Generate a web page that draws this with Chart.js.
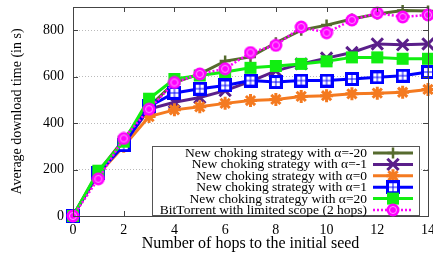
<!DOCTYPE html>
<html>
<head>
<meta charset="utf-8">
<script src="https://cdn.jsdelivr.net/npm/chart.js@4.4.1/dist/chart.umd.min.js"></script>
<style>
  body { margin: 0; background: #fff; }
  canvas { display: block; }
</style>
</head>
<body>
<canvas id="chart" width="433" height="256"></canvas>
<script>
const hops = [0, 1, 2, 3, 4, 5, 6, 7, 8, 9, 10, 11, 12, 13, 14];
const xTicks = [0, 2, 4, 6, 8, 10, 12, 14];
const yTicks = [0, 200, 400, 600, 800];

const seriesLabels = [
  'New choking strategy with \u03b1=-20',
  'New choking strategy with \u03b1=-1',
  'New choking strategy with \u03b1=0',
  'New choking strategy with \u03b1=1',
  'New choking strategy with \u03b1=20',
  'BitTorrent with limited scope (2 hops)'
];

const alphaMinus20 = [0, 190, 330, 470, 575, 612, 667, 685, 746, 800, 822, 848, 870, 885, 883];
const alphaMinus1 = [0, 185, 310, 460, 490, 510, 540, 580, 625, 655, 680, 704, 741, 737, 741];
const alpha0 = [0, 180, 300, 428, 457, 470, 485, 497, 502, 515, 518, 526, 529, 533, 545];
const alpha1 = [0, 185, 305, 472, 530, 548, 562, 583, 577, 583, 583, 590, 597, 604, 620];
const alpha20 = [0, 195, 320, 505, 590, 605, 620, 638, 646, 655, 666, 683, 683, 677, 677];
const bitTorrent = [0, 160, 334, 460, 575, 612, 634, 704, 735, 814, 789, 844, 874, 857, 866];

const FONT = "'Liberation Serif', 'DejaVu Serif', serif";

// blue square marker with the little grid inside
function boxMarker() {
  const c = document.createElement('canvas');
  c.width = 14; c.height = 14;
  const g = c.getContext('2d');
  g.fillStyle = '#0000ff';
  g.fillRect(0, 0, 14, 14);
  g.fillStyle = '#ffffff';
  g.fillRect(3, 3, 3.5, 3.5);
  g.fillRect(7.5, 3, 3.5, 3.5);
  g.fillRect(3, 7.5, 3.5, 3.5);
  g.fillRect(7.5, 7.5, 3.5, 3.5);
  return c;
}

function circleMarker() {
  const c = document.createElement('canvas');
  c.width = 14; c.height = 14;
  const g = c.getContext('2d');
  g.fillStyle = '#ff00ff';
  g.beginPath(); g.arc(7, 7, 6.5, 0, Math.PI * 2); g.fill();
  g.strokeStyle = '#ff9cff';
  g.lineWidth = 1;
  g.beginPath(); g.arc(7, 7, 3.5, 0, Math.PI * 2); g.stroke();
  return c;
}

const toPoints = vals => vals.map((v, i) => ({ x: hops[i], y: v }));

const datasets = [
  { label: seriesLabels[0], data: toPoints(alphaMinus20), borderColor: '#566b2e', backgroundColor: '#566b2e',
    borderWidth: 3, pointStyle: 'cross', pointRadius: 5.5, pointBorderWidth: 2.5, order: 5 },
  { label: seriesLabels[1], data: toPoints(alphaMinus1), borderColor: '#5a1f8a', backgroundColor: '#5a1f8a',
    borderWidth: 3, pointStyle: 'crossRot', pointRadius: 8, pointBorderWidth: 3, order: 4 },
  { label: seriesLabels[2], data: toPoints(alpha0), borderColor: '#f47a20', backgroundColor: '#f47a20',
    borderWidth: 3, pointStyle: 'star', pointRadius: 6.5, pointBorderWidth: 3, order: 3 },
  { label: seriesLabels[3], data: toPoints(alpha1), borderColor: '#0000ff', backgroundColor: '#0000ff',
    borderWidth: 3, pointStyle: boxMarker(), pointRadius: 7, order: 2 },
  { label: seriesLabels[4], data: toPoints(alpha20), borderColor: '#11ee11', backgroundColor: '#11ee11',
    borderWidth: 3, pointStyle: 'rect', pointRadius: 8.5, pointBorderWidth: 0, order: 1 },
  { label: seriesLabels[5], data: toPoints(bitTorrent), borderColor: '#ff00ff', backgroundColor: '#ff00ff',
    borderWidth: 2.5, borderDash: [2, 2], pointStyle: circleMarker(), pointRadius: 7, order: 0 }
];

// gnuplot style frame with inward ticks on all four sides
const framePlugin = {
  id: 'frame',
  afterDatasetsDraw(chart) {
    const { ctx, chartArea: a, scales } = chart;
    ctx.save();
    ctx.strokeStyle = '#444';
    ctx.lineWidth = 1;
    ctx.beginPath();
    xTicks.forEach(v => {
      const px = Math.round(scales.x.getPixelForValue(v)) + 0.5;
      ctx.moveTo(px, a.bottom); ctx.lineTo(px, a.bottom - 5);
      ctx.moveTo(px, a.top); ctx.lineTo(px, a.top + 5);
    });
    yTicks.forEach(v => {
      const py = Math.round(scales.y.getPixelForValue(v)) + 0.5;
      ctx.moveTo(a.left, py); ctx.lineTo(a.left + 5, py);
      ctx.moveTo(a.right, py); ctx.lineTo(a.right - 5, py);
    });
    ctx.stroke();
    ctx.strokeRect(Math.round(a.left) + 0.5, Math.round(a.top) + 0.5,
      Math.round(a.right - a.left), Math.round(a.bottom - a.top));
    ctx.restore();
  }
};

// legend inside the plot, text right aligned, sample on the right
const legendPlugin = {
  id: 'insideLegend',
  afterDraw(chart) {
    const { ctx } = chart;
    const box = { left: 152.5, top: 146.5, right: 419.5, bottom: 215.5 };
    ctx.save();
    ctx.fillStyle = '#fff';
    ctx.fillRect(box.left, box.top, box.right - box.left, box.bottom - box.top);
    ctx.strokeStyle = '#555';
    ctx.lineWidth = 1;
    ctx.strokeRect(box.left, box.top, box.right - box.left, box.bottom - box.top);
    ctx.font = '13.5px ' + FONT;
    ctx.textAlign = 'right';
    ctx.textBaseline = 'middle';
    chart.data.datasets.forEach((ds, i) => {
      const y = 153 + i * 11.4;
      ctx.fillStyle = '#000';
      ctx.fillText(ds.label, 367, y + 0.5);
      ctx.strokeStyle = ds.borderColor;
      ctx.lineWidth = ds.borderWidth;
      ctx.setLineDash(ds.borderDash || []);
      ctx.beginPath();
      ctx.moveTo(373, y); ctx.lineTo(413, y);
      ctx.stroke();
      ctx.setLineDash([]);
      ctx.fillStyle = ds.backgroundColor;
      ctx.lineWidth = ds.pointBorderWidth || 1;
      Chart.helpers.drawPoint(ctx, {
        pointStyle: ds.pointStyle, radius: ds.pointRadius, rotation: 0,
        borderWidth: ds.pointBorderWidth || 0
      }, 393, y);
    });
    ctx.restore();
  }
};

new Chart(document.getElementById('chart'), {
  type: 'line',
  data: { datasets },
  options: {
    responsive: false,
    animation: false,
    events: [],
    clip: false,
    layout: { autoPadding: false, padding: { top: 7, right: 5, left: 0, bottom: 0 } },
    elements: { line: { tension: 0 } },
    plugins: { legend: { display: false }, tooltip: { enabled: false } },
    scales: {
      x: {
        type: 'linear', min: 0, max: 14,
        grid: { display: false },
        border: { display: false },
        ticks: { color: '#000', font: { family: FONT, size: 14 }, padding: -2, maxRotation: 0 },
        title: { display: true, text: 'Number of hops to the initial seed', color: '#000',
          font: { family: FONT, size: 16 }, padding: { top: 0, bottom: 3 } },
        afterBuildTicks: s => { s.ticks = xTicks.map(v => ({ value: v })); },
        afterFit: s => { s.height = 40; s.paddingLeft = 0; s.paddingRight = 0; }
      },
      y: {
        min: 0, max: 900,
        grid: { color: '#bbbbbb', lineWidth: 1, drawTicks: false },
        border: { display: false, dash: [1, 2] },
        ticks: { color: '#000', font: { family: FONT, size: 14 }, padding: 9 },
        title: { display: true, text: 'Average download time (in s)', color: '#000',
          font: { family: FONT, size: 14 }, padding: { top: 9, bottom: 0 } },
        afterBuildTicks: s => { s.ticks = yTicks.map(v => ({ value: v })); },
        afterFit: s => { s.width = 73; s.paddingTop = 0; s.paddingBottom = 0; }
      }
    }
  },
  plugins: [framePlugin, legendPlugin]
});
</script>
</body>
</html>
